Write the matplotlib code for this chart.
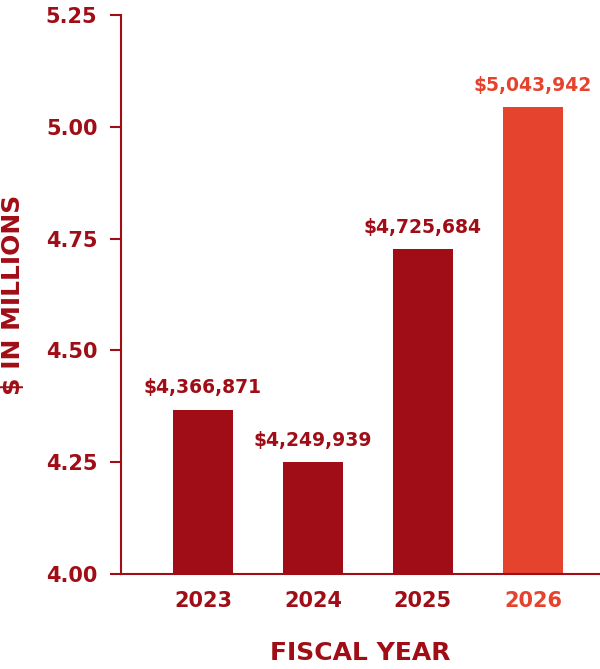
import matplotlib
matplotlib.use('Agg')
import matplotlib.pyplot as plt

# Budget by fiscal year ($ in millions)
years = ['2023', '2024', '2025', '2026']
values = [4.366871, 4.249939, 4.725684, 5.043942]
value_labels = ['$4,366,871', '$4,249,939', '$4,725,684', '$5,043,942']
y_ticks = [4.00, 4.25, 4.50, 4.75, 5.00, 5.25]

dark_red = '#A00D16'
orange_red = '#E5432D'
colors = [dark_red, dark_red, dark_red, orange_red]

plt.rcParams['font.family'] = 'DejaVu Sans'
plt.rcParams['font.weight'] = 'bold'

fig = plt.figure(figsize=(6, 6.69), dpi=100)
ax = fig.add_axes([121/600, 95/669, 479/600, 559/669])

x = range(len(years))
ax.bar(x, values, width=0.55, color=colors, bottom=0, zorder=2)

for i in x:
    ax.annotate(value_labels[i], (i, values[i]), xytext=(0, 9), textcoords='offset points',
                ha='center', va='bottom', fontsize=13.5, fontweight='bold', color=colors[i])

ax.set_ylim(4.0, 5.25)
ax.set_xlim(-0.745, 3.61)
ax.set_yticks(y_ticks)
ax.set_yticklabels([f'{t:.2f}' for t in y_ticks])
ax.set_xticks(list(x))
ax.set_xticklabels(years)
for lbl, c in zip(ax.get_xticklabels(), colors):
    lbl.set_color(c)

ax.tick_params(axis='y', length=8, width=1.5, color=dark_red, labelcolor=dark_red,
               labelsize=15, pad=9)
ax.tick_params(axis='x', length=0, labelsize=15, pad=12)

for s in ['top', 'right']:
    ax.spines[s].set_visible(False)
for s in ['left', 'bottom']:
    ax.spines[s].set_color(dark_red)
    ax.spines[s].set_linewidth(1.5)

ax.set_xlabel('FISCAL YEAR', fontsize=18, fontweight='bold', color=dark_red, labelpad=22)
ax.set_ylabel('$ IN MILLIONS', fontsize=18, fontweight='bold', color=dark_red)
ax.yaxis.set_label_coords(-0.2, 0.5)

fig.savefig('out.png', dpi=100)
